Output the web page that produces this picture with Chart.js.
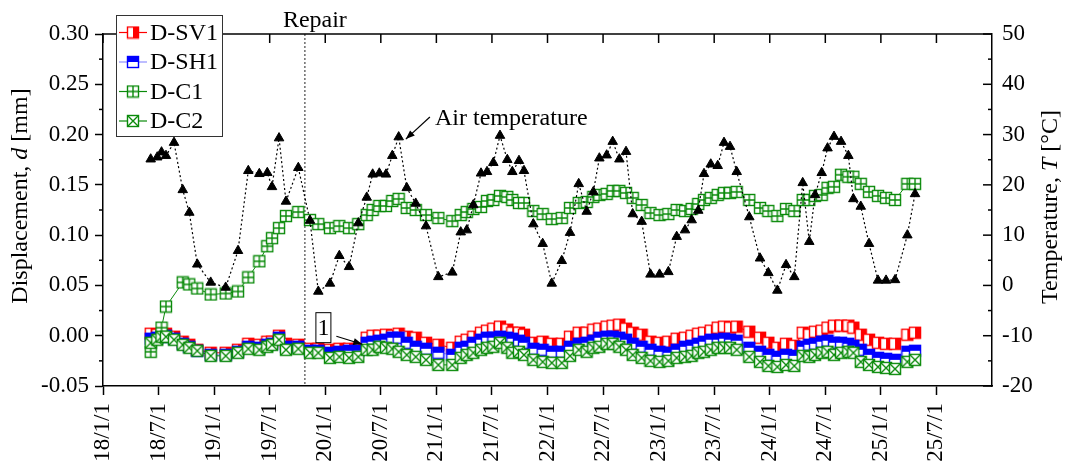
<!DOCTYPE html>
<html>
<head>
<meta charset="utf-8">
<script src="https://cdn.jsdelivr.net/npm/chart.js@4.4.1/dist/chart.umd.min.js"></script>
<style>
  body { margin: 0; background: #fff; }
  #wrap { width: 1068px; height: 462px; position: relative; }
</style>
</head>
<body>
<div id="wrap"><canvas id="chart"></canvas></div>
<script>
// time of each reading, in months after 2018-01-01
const monthsSince2018 = [
  5.15, 5.86, 6.32, 6.80, 7.67, 8.61, 9.32, 10.18, 11.63, 13.25,
  14.58, 15.69, 16.88, 17.74, 18.25, 19.01, 19.76, 21.09, 22.35, 23.25,
  24.51, 25.52, 26.57, 27.57, 28.48, 29.12, 29.84, 30.56, 31.24, 31.93,
  32.80, 33.77, 34.88, 36.21, 37.72, 38.63, 39.28, 39.99, 40.82, 41.47,
  42.15, 42.87, 43.66, 44.20, 44.92, 45.46, 46.47, 47.48, 48.46, 49.54,
  50.43, 51.37, 52.23, 52.95, 53.60, 54.39, 55.04, 55.76, 56.48, 57.20,
  58.17, 59.12, 60.10, 61.05, 61.95, 62.85, 63.57, 64.28, 64.90, 65.63,
  66.38, 67.06, 67.71, 68.43, 69.79, 70.95, 71.85, 72.82, 73.76, 74.65,
  75.56, 76.27, 76.89, 77.61, 78.24, 78.94, 79.70, 80.49, 81.03, 81.83,
  82.72, 83.69, 84.56, 85.53, 86.86, 87.69
];

// air temperature [°C]
const airTemp = [
  25.1, 25.5, 26.5, 25.8, 28.4, 19.0, 14.5, 4.2, 0.6, -0.4,
  6.9, 22.8, 22.2, 22.4, 19.6, 29.3, 16.7, 23.4, 12.9, -1.2,
  0.4, 5.9, 3.7, 12.4, 17.5, 22.1, 22.3, 22.1, 25.8, 29.5,
  19.4, 16.3, 11.8, 1.7, 2.6, 10.6, 11.0, 16.0, 22.3, 22.6,
  24.4, 29.8, 25.0, 22.6, 24.8, 22.8, 12.2, 8.3, 0.4, 4.9,
  10.5, 20.2, 14.7, 18.6, 25.3, 25.9, 28.6, 25.1, 26.6, 14.2,
  12.7, 2.2, 2.2, 2.7, 9.7, 11.0, 13.0, 14.9, 22.2, 24.1,
  23.8, 28.4, 27.6, 22.6, 13.6, 5.4, 2.5, -1.0, 4.1, 1.7,
  20.4, 8.7, 18.0, 22.4, 27.3, 29.6, 28.6, 25.8, 17.2, 15.7,
  8.3, 1.0, 1.0, 1.1, 10.0, 18.2
];

// displacements [mm]
const dSV1 = [
  0.002, 0.001, 0.002, 0.002, -0.001, -0.006, -0.009, -0.014, -0.017, -0.017,
  -0.014, -0.008, -0.009, -0.006, -0.006, 0.000, -0.008, -0.009, -0.013, -0.013,
  -0.014, -0.013, -0.013, -0.013, -0.002, 0.000, 0.000, 0.001, 0.000, 0.002,
  -0.001, -0.002, -0.007, -0.009, -0.012, -0.006, -0.004, -0.001, 0.003, 0.005,
  0.007, 0.009, 0.006, 0.003, 0.003, 0.001, -0.007, -0.006, -0.008, -0.008,
  -0.001, 0.003, 0.003, 0.006, 0.007, 0.009, 0.010, 0.011, 0.007, 0.003,
  0.001, -0.006, -0.007, -0.006, -0.003, -0.002, 0.000, 0.002, 0.003, 0.005,
  0.008, 0.009, 0.008, 0.009, 0.004, -0.002, -0.007, -0.012, -0.008, -0.010,
  0.003, 0.001, 0.004, 0.005, 0.008, 0.010, 0.010, 0.010, 0.008, 0.001,
  -0.004, -0.007, -0.008, -0.008, 0.001, 0.003
];
const dSH1 = [
  -0.003, -0.002, -0.001, 0.000, -0.003, -0.008, -0.011, -0.015, -0.019, -0.019,
  -0.016, -0.011, -0.012, -0.009, -0.008, -0.002, -0.011, -0.011, -0.015, -0.015,
  -0.017, -0.016, -0.015, -0.015, -0.007, -0.006, -0.005, -0.004, -0.002, -0.002,
  -0.007, -0.011, -0.013, -0.017, -0.019, -0.012, -0.011, -0.007, -0.004, -0.002,
  -0.002, -0.001, -0.002, -0.003, -0.005, -0.007, -0.013, -0.014, -0.016, -0.016,
  -0.011, -0.008, -0.007, -0.005, -0.002, -0.001, -0.001, -0.002, -0.004, -0.008,
  -0.011, -0.014, -0.016, -0.017, -0.014, -0.011, -0.010, -0.008, -0.006, -0.004,
  -0.004, -0.003, -0.004, -0.005, -0.012, -0.016, -0.019, -0.021, -0.019, -0.020,
  -0.011, -0.009, -0.008, -0.006, -0.005, -0.007, -0.007, -0.008, -0.010, -0.014,
  -0.019, -0.022, -0.023, -0.024, -0.016, -0.015
];
const dC1 = [
  -0.016, null, 0.008, 0.029, null, 0.053, 0.051, 0.047, 0.041, 0.042,
  0.044, 0.058, 0.074, 0.089, 0.097, 0.107, 0.119, 0.123, 0.115, 0.111,
  0.107, 0.109, 0.107, 0.111, 0.120, 0.125, 0.129, 0.129, 0.134, 0.136,
  0.127, 0.125, 0.120, 0.117, 0.114, 0.120, 0.123, 0.126, 0.128, 0.134,
  0.135, 0.139, 0.138, 0.135, 0.132, 0.132, 0.124, 0.121, 0.116, 0.117,
  0.127, 0.132, 0.133, 0.138, 0.140, 0.141, 0.144, 0.144, 0.142, 0.137,
  0.130, 0.122, 0.120, 0.121, 0.125, 0.124, 0.126, 0.131, 0.135, 0.137,
  0.140, 0.142, 0.142, 0.143, 0.135, 0.127, 0.124, 0.119, 0.126, 0.124,
  0.135, 0.135, 0.139, 0.140, 0.147, 0.148, 0.160, 0.158, 0.158, 0.151,
  0.143, 0.139, 0.137, 0.135, 0.151, 0.151
];
const dC2 = [
  -0.007, -0.004, -0.001, -0.001, -0.004, -0.009, -0.012, -0.015, -0.020, -0.020,
  -0.017, -0.013, -0.014, -0.011, -0.009, -0.004, -0.014, -0.013, -0.017, -0.017,
  -0.022, -0.021, -0.022, -0.021, -0.014, -0.014, -0.011, -0.012, -0.013, -0.016,
  -0.019, -0.021, -0.024, -0.029, -0.029, -0.022, -0.019, -0.017, -0.014, -0.012,
  -0.011, -0.007, -0.012, -0.017, -0.016, -0.019, -0.024, -0.026, -0.027, -0.027,
  -0.020, -0.014, -0.016, -0.012, -0.011, -0.008, -0.008, -0.011, -0.014, -0.019,
  -0.022, -0.025, -0.026, -0.025, -0.022, -0.021, -0.020, -0.017, -0.016, -0.014,
  -0.012, -0.012, -0.012, -0.014, -0.021, -0.026, -0.030, -0.031, -0.029, -0.030,
  -0.020, -0.021, -0.019, -0.017, -0.016, -0.019, -0.017, -0.016, -0.017, -0.026,
  -0.029, -0.031, -0.032, -0.033, -0.026, -0.024
];

const xTickLabels = ['18/1/1', '18/7/1', '19/1/1', '19/7/1', '20/1/1', '20/7/1', '21/1/1', '21/7/1',
  '22/1/1', '22/7/1', '23/1/1', '23/7/1', '24/1/1', '24/7/1', '25/1/1', '25/7/1'];
const repairMonth = 21.8;

const FONT = '"Liberation Serif", "Times New Roman", serif';
Chart.defaults.font.family = FONT;
Chart.defaults.font.size = 23;
Chart.defaults.color = '#000';

const RED = '#ff0000', BLUE = '#0000ff', GREEN = '#0a8a0a';

// square markers drawn once on small canvases
function marker(kind, color) {
  const c = document.createElement('canvas');
  c.width = 14; c.height = 14;
  const g = c.getContext('2d');
  const a = 1.5, b = 12.5, m = 7;
  g.fillStyle = '#fff';
  g.fillRect(a, a, b - a, b - a);
  g.fillStyle = color;
  if (kind === 'right') g.fillRect(m, a, b - m, b - a);
  if (kind === 'top') g.fillRect(a, a, b - a, m - a);
  g.strokeStyle = color;
  g.lineWidth = 1.4;
  g.strokeRect(a, a, b - a, b - a);
  g.beginPath();
  if (kind === 'plus') { g.moveTo(m, a); g.lineTo(m, b); g.moveTo(a, m); g.lineTo(b, m); }
  if (kind === 'cross') { g.moveTo(a, a); g.lineTo(b, b); g.moveTo(b, a); g.lineTo(a, b); }
  g.stroke();
  return c;
}
const mSV1 = marker('right', RED);
const mSH1 = marker('top', BLUE);
const mC1 = marker('plus', GREEN);
const mC2 = marker('cross', GREEN);

const pts = ys => monthsSince2018.map((m, i) => ({ x: m, y: ys[i] }));

function arrow(ctx, x1, y1, x2, y2) {
  ctx.beginPath(); ctx.moveTo(x1, y1); ctx.lineTo(x2, y2); ctx.stroke();
  const ang = Math.atan2(y2 - y1, x2 - x1), L = 9, W = 3.5;
  ctx.beginPath();
  ctx.moveTo(x2, y2);
  ctx.lineTo(x2 - L * Math.cos(ang) + W * Math.sin(ang), y2 - L * Math.sin(ang) - W * Math.cos(ang));
  ctx.lineTo(x2 - L * Math.cos(ang) - W * Math.sin(ang), y2 - L * Math.sin(ang) + W * Math.cos(ang));
  ctx.closePath(); ctx.fill();
}

function vTitle(ctx, parts, cx, cy, size) {
  let total = 0;
  parts.forEach(p => {
    ctx.font = (p[1] ? 'italic ' : '') + size + 'px ' + FONT;
    p.w = ctx.measureText(p[0]).width; total += p.w;
  });
  ctx.save();
  ctx.translate(cx, cy); ctx.rotate(-Math.PI / 2);
  ctx.textBaseline = 'middle'; ctx.textAlign = 'left';
  let xx = -total / 2;
  parts.forEach(p => {
    ctx.font = (p[1] ? 'italic ' : '') + size + 'px ' + FONT;
    ctx.fillText(p[0], xx, 0); xx += p.w;
  });
  ctx.restore();
}

const legendItems = [
  ['D-SV1', mSV1, RED],
  ['D-SH1', mSH1, 'rgba(70,70,255,0.6)'],
  ['D-C1', mC1, GREEN],
  ['D-C2', mC2, GREEN]
];

const decor = {
  id: 'decor',
  beforeDatasetsDraw(chart) {
    const { ctx, chartArea: a, scales: { x } } = chart;
    const px = x.getPixelForValue(repairMonth);
    ctx.save();
    ctx.strokeStyle = '#555'; ctx.lineWidth = 1.3; ctx.setLineDash([2, 2]);
    ctx.beginPath(); ctx.moveTo(px, a.top); ctx.lineTo(px, a.bottom); ctx.stroke();
    ctx.restore();
  },
  afterDraw(chart) {
    const { ctx, chartArea: a, scales: { x, y, y2 } } = chart;
    ctx.save();
    ctx.strokeStyle = '#000'; ctx.fillStyle = '#000'; ctx.lineWidth = 1.5;
    const seg = (x1, y1, x2, y2_) => { ctx.beginPath(); ctx.moveTo(x1, y1); ctx.lineTo(x2, y2_); ctx.stroke(); };
    // top frame with inward ticks
    seg(a.left, a.top, a.right, a.top);
    x.ticks.forEach(t => { const px = x.getPixelForValue(t.value); seg(px, a.top, px, a.top + 9); });
    // left minor ticks
    for (let v = -0.025; v < 0.3; v += 0.05) { const py = y.getPixelForValue(v); seg(a.left - 4, py, a.left, py); }
    // right axis inward ticks
    for (let v = -20; v <= 50; v += 5) {
      const py = y2.getPixelForValue(v);
      seg(a.right - (v % 10 === 0 ? 9 : 4), py, a.right, py);
    }
    // repair label
    ctx.font = '24px ' + FONT; ctx.textAlign = 'center'; ctx.textBaseline = 'alphabetic';
    ctx.fillText('Repair', x.getPixelForValue(repairMonth) + 10, 27);

    // air temperature note
    ctx.lineWidth = 1.2;
    ctx.textAlign = 'left'; ctx.textBaseline = 'middle';
    ctx.fillText('Air temperature', x.getPixelForValue(35.85), y2.getPixelForValue(33.1));
    arrow(ctx, x.getPixelForValue(35.3), y2.getPixelForValue(33.5), x.getPixelForValue(32.7), y2.getPixelForValue(29.1));

    // label 1
    const bx = x.getPixelForValue(23.8), by = y.getPixelForValue(0.008);
    ctx.fillStyle = '#fff'; ctx.fillRect(bx - 7.5, by - 15, 15, 30);
    ctx.strokeStyle = '#000'; ctx.lineWidth = 1; ctx.strokeRect(bx - 7.5, by - 15, 15, 30);
    ctx.fillStyle = '#000'; ctx.textAlign = 'center';
    ctx.fillText('1', bx, by + 1);
    ctx.lineWidth = 1.2;
    arrow(ctx, x.getPixelForValue(25.2), y.getPixelForValue(-0.0005), x.getPixelForValue(28.0), y.getPixelForValue(-0.0085));

    // legend
    const lx = 116, ly = 15, lw = 106, lh = 121;
    ctx.fillStyle = '#fff'; ctx.fillRect(lx, ly, lw, lh);
    ctx.strokeStyle = '#333'; ctx.lineWidth = 1; ctx.strokeRect(lx + 0.5, ly + 0.5, lw, lh);
    legendItems.forEach((it, i) => {
      const cy = 32.5 + i * 29.5;
      ctx.strokeStyle = it[2]; ctx.lineWidth = 1.2;
      seg(119, cy, 147, cy);
      ctx.drawImage(it[1], 133 - 7, cy - 7);
      ctx.fillStyle = '#000'; ctx.textAlign = 'left'; ctx.textBaseline = 'middle';
      ctx.font = '24px ' + FONT;
      ctx.fillText(it[0], 150, cy + 1);
    });

    // axis titles
    ctx.fillStyle = '#000';
    vTitle(ctx, [['Displacement, ', false], ['d', true], [' [mm]', false]], 21, 196, 24);
    vTitle(ctx, [['Temperature, ', false], ['T', true], [' [°C]', false]], 1051, 207, 24);
    ctx.restore();
  }
};

new Chart(document.getElementById('chart'), {
  type: 'line',
  data: {
    datasets: [
      {
        label: 'Air temperature', data: pts(airTemp), yAxisID: 'y2', order: 0,
        borderColor: '#000', borderWidth: 1.2, borderDash: [2, 2.5],
        pointStyle: 'triangle', pointRadius: 5.5, pointBackgroundColor: '#000', pointBorderColor: '#000', pointBorderWidth: 1
      },
      {
        label: 'D-C2', data: pts(dC2), yAxisID: 'y', order: 1,
        borderColor: GREEN, borderWidth: 1, pointStyle: mC2, pointRadius: 6, spanGaps: true
      },
      {
        label: 'D-C1', data: pts(dC1), yAxisID: 'y', order: 2,
        borderColor: GREEN, borderWidth: 1, pointStyle: mC1, pointRadius: 6, spanGaps: true
      },
      {
        label: 'D-SH1', data: pts(dSH1), yAxisID: 'y', order: 3,
        borderColor: 'rgba(70,70,255,0.6)', borderWidth: 1, pointStyle: mSH1, pointRadius: 6, spanGaps: true
      },
      {
        label: 'D-SV1', data: pts(dSV1), yAxisID: 'y', order: 4,
        borderColor: RED, borderWidth: 1, pointStyle: mSV1, pointRadius: 6, spanGaps: true
      }
    ]
  },
  options: {
    responsive: true,
    maintainAspectRatio: false,
    animation: false,
    layout: { padding: { top: 34, left: 0, right: 0, bottom: 0 } },
    plugins: { legend: { display: false }, tooltip: { enabled: false } },
    scales: {
      x: {
        type: 'linear', position: 'bottom', min: 0, max: 96,
        afterFit: s => { s.height = 76; },
        afterBuildTicks: s => { s.ticks = s.ticks.filter(t => t.value < 96); },
        ticks: {
          stepSize: 6, autoSkip: false, minRotation: 90, maxRotation: 90, padding: 8,
          callback: v => xTickLabels[Math.round(v / 6)]
        },
        grid: { drawOnChartArea: false, drawTicks: true, tickLength: 9, tickColor: '#000', tickWidth: 1.5 },
        border: { color: '#000', width: 1.5 }
      },
      y: {
        position: 'left', min: -0.05, max: 0.30,
        afterFit: s => { s.width = 103; },
        ticks: { stepSize: 0.05, padding: 6, callback: v => (Math.abs(v) < 1e-9 ? 0 : v).toFixed(2) },
        grid: { drawOnChartArea: false, drawTicks: true, tickLength: 8, tickColor: '#000', tickWidth: 1.5 },
        border: { color: '#000', width: 1.5 }
      },
      y2: {
        position: 'right', min: -20, max: 50,
        afterFit: s => { s.width = 76; },
        ticks: { stepSize: 10, padding: 10 },
        grid: { drawOnChartArea: false, drawTicks: false },
        border: { color: '#000', width: 1.5 }
      }
    }
  },
  plugins: [decor]
});
</script>
</body>
</html>
